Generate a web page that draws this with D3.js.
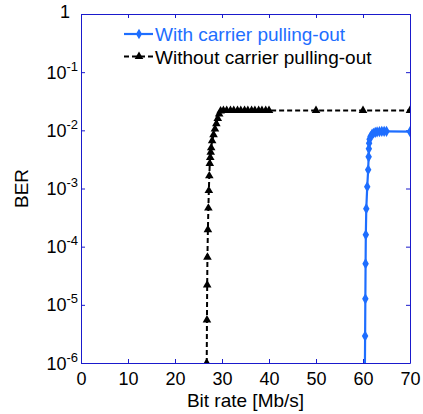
<!DOCTYPE html>
<html>
<head>
<meta charset="utf-8">
<script src="https://cdn.jsdelivr.net/npm/d3@7"></script>
<style>
  body { margin: 0; background: #fff; }
  svg { display: block; font-family: "Liberation Sans", Arial, sans-serif; }
</style>
</head>
<body>
<svg></svg>
<script>
// values
let xTicks = [0, 10, 20, 30, 40, 50, 60, 70]
let yTicks = [1e-6, 1e-5, 1e-4, 1e-3, 1e-2, 1e-1, 1]

let withRate = [60.4, 60.45, 60.5, 60.55, 60.6, 60.7, 60.9, 61.1, 61.2, 61.25, 61.3, 61.4, 61.6, 61.9, 62.2, 62.6, 63.0, 63.5, 64.0, 64.5, 65.0, 70]
let withBer = [7e-7, 2.9e-6, 1.27e-5, 5.1e-5, 1.6e-4, 4.5e-4, 1.07e-3, 2.1e-3, 3.5e-3, 4.8e-3, 6.0e-3, 7.0e-3, 7.8e-3, 8.5e-3, 8.9e-3, 9.2e-3, 9.4e-3, 9.5e-3, 9.6e-3, 9.6e-3, 9.6e-3, 9.5e-3]

let withoutRate = [26.75, 26.8, 26.85, 26.9, 27.0, 27.1, 27.2, 27.3, 27.4, 27.5, 27.6, 27.7, 27.9, 28.2, 28.5, 28.8, 29.1, 29.4, 29.7, 30.3, 31.0, 31.8, 32.5, 33.3, 34.0, 34.8, 35.5, 36.3, 37.0, 37.8, 38.5, 39.3, 40, 50, 60, 70]
let withoutBer = [1e-6, 5.5e-6, 2.2e-5, 6.6e-5, 1.95e-4, 4.6e-4, 9.2e-4, 1.65e-3, 2.7e-3, 3.4e-3, 4.2e-3, 5.0e-3, 6.6e-3, 8.4e-3, 1.05e-2, 1.3e-2, 1.6e-2, 1.9e-2, 2.15e-2, 2.2e-2, 2.2e-2, 2.2e-2, 2.2e-2, 2.2e-2, 2.2e-2, 2.2e-2, 2.2e-2, 2.2e-2, 2.2e-2, 2.2e-2, 2.2e-2, 2.2e-2, 2.2e-2, 2.2e-2, 2.2e-2, 2.2e-2]

let seriesNames = ['With carrier pulling-out', 'Without carrier pulling-out']

let w = 423
let h = 414
let padLeft = 81
let padRight = 410
let padTop = 14
let padBottom = 363

let frameColor = '#1a1acc'
let blue = '#1e6eff'

let svg = d3.select('svg').attr('width', w).attr('height', h)

let xScale = d3.scaleLinear().domain([0, 70]).range([padLeft, padRight])
let yScale = d3.scaleLog().domain([1e-6, 1]).range([padBottom, padTop])

let withData = withRate.map((r, i) => ({x: r, y: withBer[i]}))
let withoutData = withoutRate.map((r, i) => ({x: r, y: withoutBer[i]}))

svg.append('clipPath').attr('id', 'plotclip')
   .append('rect')
   .attr('x', padLeft).attr('y', padTop)
   .attr('width', padRight - padLeft).attr('height', padBottom - padTop)

// axes
let styleAxis = (g) => {
   g.selectAll('path').attr('stroke', frameColor)
   g.selectAll('line').attr('stroke', frameColor)
   g.selectAll('text').attr('fill', '#000').attr('font-size', 18)
      .attr('font-family', '"Liberation Sans", Arial, sans-serif')
}

let xAxis = d3.axisBottom(xScale).tickValues(xTicks).tickSizeInner(-4).tickSizeOuter(0).tickPadding(9)
svg.append('g')
   .attr('transform', 'translate(0,' + padBottom + ')')
   .call(xAxis)
   .call(styleAxis)

let xTop = d3.axisTop(xScale).tickValues(xTicks).tickSizeInner(-4).tickSizeOuter(0).tickFormat('')
svg.append('g')
   .attr('transform', 'translate(0,' + padTop + ')')
   .call(xTop)
   .call(styleAxis)

let yAxis = d3.axisLeft(yScale).tickValues(yTicks).tickSizeInner(-4).tickSizeOuter(0).tickFormat('')
svg.append('g')
   .attr('transform', 'translate(' + padLeft + ',0)')
   .call(yAxis)
   .call(styleAxis)

let yRight = d3.axisRight(yScale).tickValues(yTicks).tickSizeInner(-4).tickSizeOuter(0).tickFormat('')
svg.append('g')
   .attr('transform', 'translate(' + padRight + ',0)')
   .call(yRight)
   .call(styleAxis)

// y tick labels as 10^n
yTicks.forEach((t) => {
   let e = Math.round(Math.log10(t))
   let txt = svg.append('text')
      .attr('x', padLeft - 3)
      .attr('y', yScale(t) + 6.5)
      .attr('text-anchor', 'end')
      .attr('font-size', 18)
      .attr('fill', '#000')
   if (e === 0) {
      txt.attr('x', padLeft - 11).attr('y', yScale(t) + 4).text('1')
   } else {
      txt.append('tspan').text('10')
      txt.append('tspan')
         .attr('font-size', 13)
         .attr('dy', -8)
         .text(e)
   }
})

// axis titles
svg.append('text')
   .attr('x', (padLeft + padRight) / 2)
   .attr('y', 407)
   .attr('text-anchor', 'middle')
   .attr('font-size', 19)
   .text('Bit rate [Mb/s]')

svg.append('text')
   .attr('transform', 'translate(28,' + (padTop + padBottom) / 2 + ') rotate(-90)')
   .attr('text-anchor', 'middle')
   .attr('font-size', 19)
   .text('BER')

// curves
let line = d3.line().x(d => xScale(d.x)).y(d => yScale(d.y))
let plot = svg.append('g').attr('clip-path', 'url(#plotclip)')

plot.append('path')
   .datum(withoutData)
   .attr('d', line)
   .attr('fill', 'none')
   .attr('stroke', '#000')
   .attr('stroke-width', 2)
   .attr('stroke-dasharray', '5,3')

plot.selectAll('.tri')
   .data(withoutData)
   .enter()
   .append('path')
   .attr('class', 'tri')
   .attr('d', d3.symbol().type(d3.symbolTriangle).size(32))
   .attr('transform', d => 'translate(' + xScale(d.x) + ',' + yScale(d.y) + ')')
   .attr('fill', '#000')

plot.append('path')
   .datum(withData)
   .attr('d', line)
   .attr('fill', 'none')
   .attr('stroke', blue)
   .attr('stroke-width', 2.2)

plot.selectAll('.dia')
   .data(withData)
   .enter()
   .append('path')
   .attr('class', 'dia')
   .attr('d', d3.symbol().type(d3.symbolDiamond).size(36))
   .attr('transform', d => 'translate(' + xScale(d.x) + ',' + yScale(d.y) + ')')
   .attr('fill', blue)

// legend
let legend = svg.append('g')
let legendRows = [
   {name: seriesNames[0], color: blue, dash: null, sym: d3.symbolDiamond, width: 2.2, y: 34},
   {name: seriesNames[1], color: '#000', dash: '5,3', sym: d3.symbolTriangle, width: 2, y: 56.5}
]
legendRows.forEach((r) => {
   legend.append('line')
      .attr('x1', 124).attr('x2', 153)
      .attr('y1', r.y).attr('y2', r.y)
      .attr('stroke', r.color)
      .attr('stroke-width', r.width)
      .attr('stroke-dasharray', r.dash)
   legend.append('path')
      .attr('d', d3.symbol().type(r.sym).size(32))
      .attr('transform', 'translate(139,' + r.y + ')')
      .attr('fill', r.color)
   legend.append('text')
      .attr('x', 155)
      .attr('y', r.y + 7)
      .attr('font-size', 19)
      .attr('fill', r.color)
      .text(r.name)
})
</script>
</body>
</html>
